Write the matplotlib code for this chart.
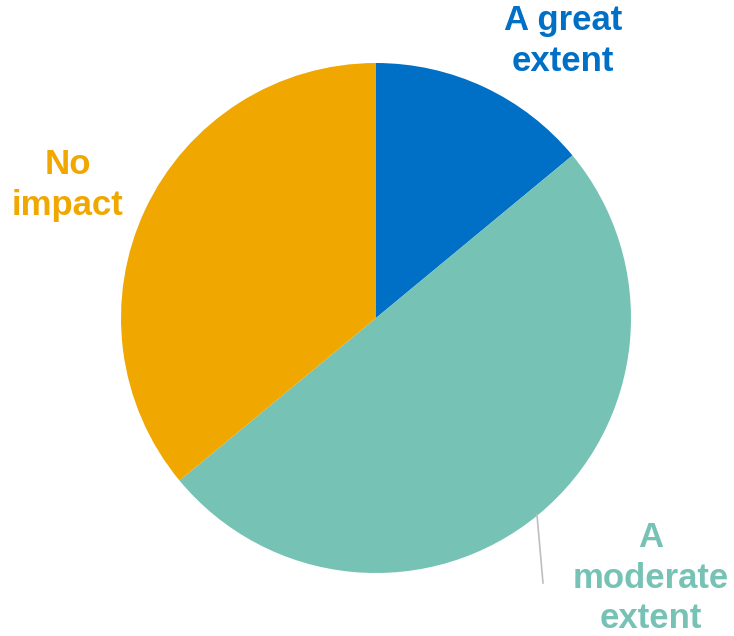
import matplotlib
matplotlib.use("Agg")
import matplotlib.pyplot as plt

labels = ["A great\nextent", "A\nmoderate\nextent", "No\nimpact"]
values = [14, 50, 36]
colors = ["#0070C6", "#76C2B5", "#F0A800"]

W, H = 734, 636
fig = plt.figure(figsize=(W / 100, H / 100), dpi=100)
ax = fig.add_axes([0, 0, 1, 1])

cx, cy, r = 376, H - 318, 255
ax.pie(values, colors=colors, startangle=90, counterclock=False,
       center=(cx, cy), radius=r, frame=True,
       wedgeprops=dict(linewidth=0))
ax.set_xlim(0, W)
ax.set_ylim(0, H)
ax.axis("off")

label_pos = [(563, H - 41), (651, H - 578), (68, H - 185)]
for lab, col, (x, y) in zip(labels, colors, label_pos):
    ax.text(x, y, lab, color=col, fontsize=25, fontweight="bold",
            family="Liberation Sans", ha="center", va="center",
            linespacing=1.27)

# leader line for the moderate slice
ax.plot([537, 543], [H - 515, H - 583], color="#BFBFBF", linewidth=1.2)

fig.savefig("out.png", dpi=100)
